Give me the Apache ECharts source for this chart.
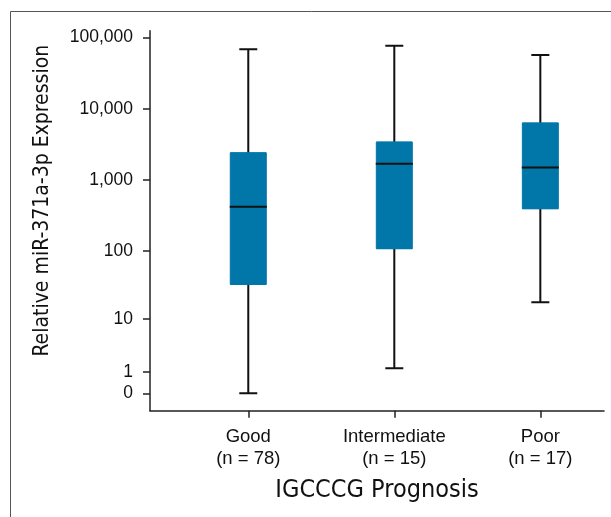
<!DOCTYPE html>
<html>
<head>
<meta charset="utf-8">
<script src="https://cdn.jsdelivr.net/npm/echarts@6/dist/echarts.min.js"></script>
<style>
  html, body { margin: 0; padding: 0; background: #fff; }
  #chart { width: 611px; height: 517px; }
</style>
</head>
<body>
<div id="chart"></div>
<script>
const categories = ['Good', 'Intermediate', 'Poor']
const counts = [78, 15, 17]
// min, Q1, median, Q3, max of relative expression
const boxValues = [
  [0, 33, 420, 2400, 69000],
  [1.25, 107, 1690, 3400, 77000],
  [18, 393, 1490, 6300, 57000]
]
const yTickValues = [0, 1, 10, 100, 1000, 10000, 100000]

// the axis is log10(value + 1) so that 0 can sit on it
const toAxis = v => Math.log10(v + 1)
const fromAxis = t => Math.round(Math.pow(10, t) - 1)

const labelFont = 'Arial, "Liberation Sans", sans-serif'
const titleFont = '"DejaVu Sans Condensed", "Liberation Sans Narrow", sans-serif'
const boxColor = '#0077a8'
const ink = '#111'
const xMin = 0.327
const xMax = 3.436

const logged = boxValues.map(row => row.map(toAxis))
const xs = categories.map((c, i) => i + 1)

// whiskers with short caps (box collapsed onto the median, hidden by the blue box)
const whiskerData = logged.map((r, i) => [xs[i], r[0], r[2], r[2], r[2], r[4]])
// blue boxes, whiskers collapsed onto the box edges
const boxData = logged.map((r, i) => [xs[i], r[1], r[1], r[2], r[3], r[3]])
// black median bar
const medianData = logged.map((r, i) => [xs[i], r[2], r[2], r[2], r[2], r[2]])

// each layer sits on its own (hidden) x axis so the boxplots are not dodged
const hiddenX = { type: 'value', min: xMin, max: xMax, show: false }

const chart = echarts.init(document.getElementById('chart'))

chart.setOption({
  animation: false,
  graphic: [
    {
      type: 'rect',
      silent: true,
      shape: { x: 10.5, y: 11.5, width: 800, height: 700 },
      style: { fill: 'none', stroke: '#555', lineWidth: 1 }
    }
  ],
  grid: { left: 150, right: 7, top: 30.7, bottom: 106.3 },
  xAxis: [
    {
      type: 'value',
      min: xMin,
      max: xMax,
      splitLine: { show: false },
      axisLine: { onZero: false, lineStyle: { color: '#222', width: 1.5 } },
      axisTick: { customValues: xs, length: 7, lineStyle: { color: '#222', width: 1.5 } },
      axisLabel: {
        customValues: xs,
        margin: 15,
        fontFamily: labelFont,
        fontSize: 18.5,
        lineHeight: 22,
        color: '#111',
        formatter (value) {
          const i = Math.round(value) - 1
          return categories[i] + '\n(n = ' + counts[i] + ')'
        }
      },
      name: 'IGCCCG Prognosis',
      nameLocation: 'middle',
      nameGap: 67,
      nameTextStyle: { fontFamily: titleFont, fontSize: 25, color: '#111' }
    },
    hiddenX,
    hiddenX
  ],
  yAxis: {
    type: 'value',
    min: -0.245,
    max: 5.098,
    splitLine: { show: false },
    axisLine: { show: true, onZero: false, lineStyle: { color: '#222', width: 1.5 } },
    axisTick: {
      show: true,
      customValues: yTickValues.map(toAxis),
      length: 7,
      lineStyle: { color: '#222', width: 1.5 }
    },
    axisLabel: {
      customValues: yTickValues.map(toAxis),
      margin: 17,
      fontFamily: labelFont,
      fontSize: 17.5,
      color: '#111',
      formatter (value) {
        return fromAxis(value).toLocaleString('en-US')
      }
    },
    name: 'Relative miR-371a-3p Expression',
    nameLocation: 'middle',
    nameRotate: 90,
    nameGap: 97,
    nameTextStyle: { fontFamily: titleFont, fontSize: 21, color: '#111', padding: [0, 0, 0, 40] }
  },
  series: [
    {
      name: 'whiskers',
      type: 'boxplot',
      xAxisIndex: 0,
      boxWidth: [18, 18],
      data: whiskerData,
      itemStyle: { color: 'transparent', borderColor: ink, borderWidth: 2 },
      emphasis: { disabled: true }
    },
    {
      name: 'boxes',
      type: 'boxplot',
      xAxisIndex: 1,
      boxWidth: [36, 36],
      data: boxData,
      itemStyle: { color: boxColor, borderColor: boxColor, borderWidth: 1 },
      emphasis: { disabled: true }
    },
    {
      name: 'median',
      type: 'boxplot',
      xAxisIndex: 2,
      boxWidth: [37, 37],
      data: medianData,
      itemStyle: { color: 'transparent', borderColor: ink, borderWidth: 2 },
      emphasis: { disabled: true }
    }
  ]
})
</script>
</body>
</html>
